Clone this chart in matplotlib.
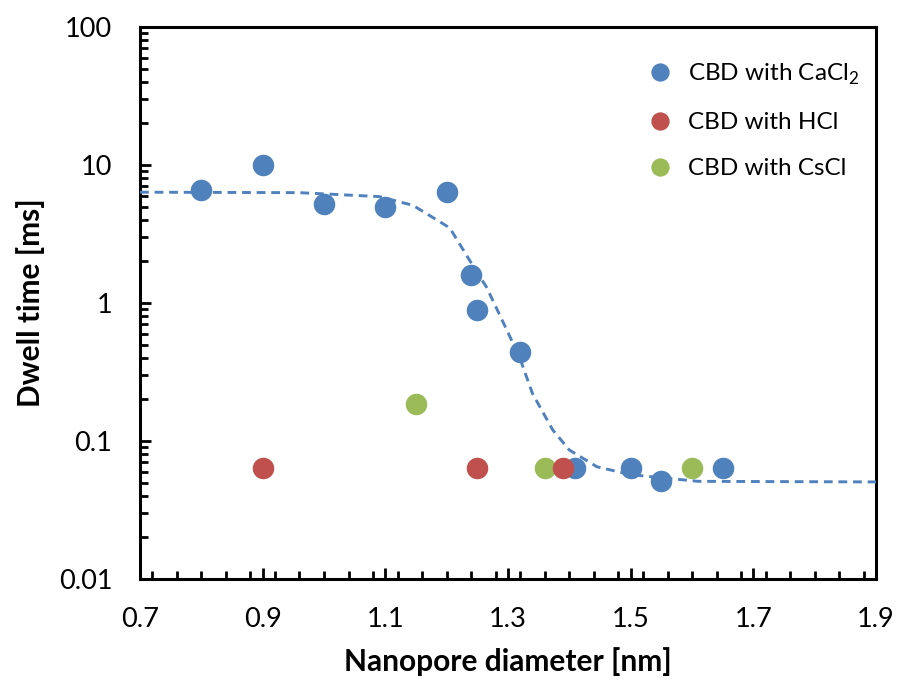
import matplotlib
matplotlib.use("Agg")
import matplotlib.pyplot as plt
from matplotlib.ticker import MultipleLocator, LogLocator, NullFormatter, FixedLocator, FixedFormatter

plt.rcParams["font.family"] = ["Lato", "DejaVu Sans"]
plt.rcParams["mathtext.fontset"] = "custom"
plt.rcParams["mathtext.rm"] = "Lato"

# data
cacl2_x = [0.80, 0.90, 1.00, 1.10, 1.20, 1.24, 1.25, 1.32, 1.41, 1.50, 1.55, 1.65]
cacl2_y = [6.6, 10.0, 5.2, 5.0, 6.4, 1.6, 0.89, 0.44, 0.064, 0.064, 0.051, 0.064]

hcl_x = [0.90, 1.25, 1.39]
hcl_y = [0.064, 0.064, 0.064]

cscl_x = [1.15, 1.36, 1.60]
cscl_y = [0.185, 0.064, 0.064]

# fitted curve (dashed), traced
fit_x = [0.70, 0.96, 1.09, 1.145, 1.205, 1.24, 1.265, 1.30, 1.32, 1.34, 1.373, 1.40, 1.445, 1.50, 1.61, 1.90]
fit_y = [6.35, 6.3, 5.9, 5.1, 3.5, 1.95, 1.3, 0.61, 0.39, 0.22, 0.12, 0.086, 0.065, 0.057, 0.051, 0.0505]

x_ticks = [0.7, 0.9, 1.1, 1.3, 1.5, 1.7, 1.9]
y_ticks = [0.01, 0.1, 1, 10, 100]
y_ticklabels = ["0.01", "0.1", "1", "10", "100"]

BLUE = "#4F81BD"
RED = "#C0504D"
GREEN = "#9BBB59"

fig = plt.figure(figsize=(9.01, 6.81), dpi=100)
ax = fig.add_axes([0.1554, 0.1498, 0.8169, 0.8106])

h_ca, = ax.plot(cacl2_x, cacl2_y, "o", color=BLUE, ms=15.5, mec="none", zorder=3)
h_cs, = ax.plot(cscl_x, cscl_y, "o", color=GREEN, ms=15.5, mec="none", zorder=3)
h_h, = ax.plot(hcl_x, hcl_y, "o", color=RED, ms=15.5, mec="none", zorder=4)
ax.plot(fit_x, fit_y, "--", color=BLUE, lw=2.1, dashes=(3, 2), zorder=5)

ax.set_yscale("log")
ax.set_xlim(0.7, 1.9)
ax.set_ylim(0.01, 100)

ax.xaxis.set_major_locator(FixedLocator(x_ticks))
ax.xaxis.set_minor_locator(MultipleLocator(0.04))
ax.set_xticklabels([f"{v:.1f}" for v in x_ticks])
ax.yaxis.set_major_locator(FixedLocator(y_ticks))
ax.yaxis.set_major_formatter(FixedFormatter(y_ticklabels))
ax.yaxis.set_minor_locator(LogLocator(base=10, subs=range(2, 10)))
ax.yaxis.set_minor_formatter(NullFormatter())

ax.tick_params(which="both", direction="in", top=False, right=False, width=2.0, labelsize=19.5, pad=20)
ax.tick_params(which="major", length=8)
ax.tick_params(which="minor", length=5.5)
for s in ax.spines.values():
    s.set_linewidth(2.2)

ax.set_xlabel("Nanopore diameter [nm]", fontsize=21.5, fontweight="bold", labelpad=11)
ax.set_ylabel("Dwell time [ms]", fontsize=21.5, fontweight="bold", labelpad=10)

ax.legend([h_ca, h_h, h_cs], [r"CBD with CaCl$_2$", "CBD with HCl", "CBD with CsCl"],
          loc="upper right", bbox_to_anchor=(1.027, 1.003), frameon=False, fontsize=17.5,
          handletextpad=0.15, labelspacing=1.03, borderaxespad=1.1, markerscale=0.85)

fig.savefig("out.png", dpi=100)
